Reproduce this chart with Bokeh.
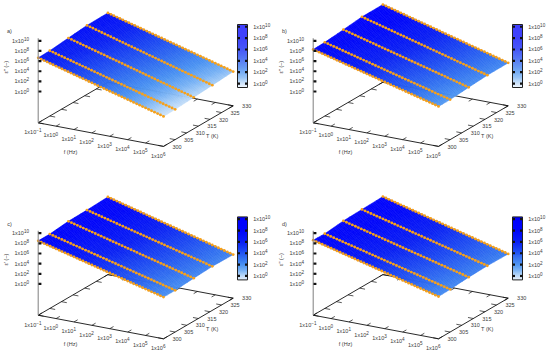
import numpy as np
from bokeh.plotting import figure
from bokeh.models import Range1d
from bokeh.core.properties import value
from bokeh.embed import file_html
from bokeh.resources import INLINE

log_f = [-1.00,-0.83,-0.67,-0.50,-0.33,-0.17,0.00,0.17,0.33,0.50,0.67,0.83,1.00,1.17,1.33,1.50,1.67,1.83,2.00,2.17,2.33,2.50,2.67,2.83,3.00,3.17,3.33,3.50,3.67,3.83,4.00,4.17,4.33,4.50,4.67,4.83,5.00,5.17,5.33,5.50,5.67,5.83,6.00]
temps = [300, 305, 313, 321, 330]

a_300 = [6.65,6.49,6.32,6.16,5.99,5.83,5.67,5.50,5.34,5.17,5.01,4.85,4.68,4.52,4.35,4.19,4.03,3.86,3.70,3.53,3.37,3.21,3.04,2.88,2.71,2.55,2.39,2.22,2.06,1.89,1.73,1.57,1.40,1.24,1.07,0.91,0.75,0.58,0.42,0.25,0.09,-0.08,-0.25]
a_305 = [6.71,6.55,6.38,6.22,6.05,5.89,5.72,5.56,5.39,5.23,5.07,4.90,4.74,4.57,4.41,4.24,4.08,3.91,3.75,3.58,3.42,3.26,3.09,2.93,2.76,2.60,2.43,2.27,2.10,1.94,1.77,1.61,1.45,1.28,1.12,0.95,0.79,0.62,0.46,0.29,0.13,-0.04,-0.20]
a_313 = [7.08,6.91,6.74,6.58,6.41,6.24,6.07,5.91,5.74,5.57,5.40,5.24,5.07,4.90,4.73,4.57,4.40,4.23,4.06,3.90,3.73,3.56,3.39,3.23,3.06,2.89,2.72,2.56,2.39,2.22,2.05,1.89,1.72,1.55,1.38,1.22,1.05,0.88,0.71,0.55,0.38,0.21,0.04]
a_321 = [7.44,7.27,7.10,6.93,6.76,6.59,6.42,6.25,6.08,5.91,5.74,5.57,5.40,5.23,5.06,4.89,4.72,4.55,4.38,4.21,4.04,3.87,3.70,3.53,3.36,3.19,3.02,2.85,2.68,2.51,2.34,2.17,2.00,1.83,1.66,1.49,1.32,1.15,0.98,0.81,0.64,0.47,0.30]
a_330 = [7.50,7.34,7.17,7.01,6.84,6.68,6.51,6.35,6.18,6.02,5.86,5.69,5.53,5.36,5.20,5.03,4.87,4.70,4.54,4.37,4.21,4.05,3.88,3.72,3.55,3.39,3.22,3.06,2.89,2.73,2.56,2.40,2.24,2.07,1.91,1.74,1.58,1.41,1.25,1.08,0.92,0.75,0.59]

b_300 = [8.29,8.13,7.98,7.82,7.66,7.51,7.35,7.20,7.04,6.88,6.73,6.57,6.41,6.26,6.10,5.94,5.79,5.63,5.47,5.32,5.16,5.01,4.85,4.69,4.54,4.38,4.22,4.07,3.91,3.75,3.60,3.44,3.29,3.13,2.97,2.82,2.66,2.50,2.35,2.19,2.03,1.88,1.72]
b_305 = [8.37,8.21,8.05,7.90,7.74,7.58,7.42,7.26,7.11,6.95,6.79,6.63,6.47,6.32,6.16,6.00,5.84,5.68,5.53,5.37,5.21,5.05,4.89,4.74,4.58,4.42,4.26,4.10,3.95,3.79,3.63,3.47,3.31,3.16,3.00,2.84,2.68,2.52,2.37,2.21,2.05,1.89,1.73]
b_313 = [8.72,8.56,8.40,8.24,8.08,7.92,7.76,7.60,7.44,7.28,7.13,6.97,6.81,6.65,6.49,6.33,6.17,6.01,5.85,5.69,5.53,5.37,5.21,5.05,4.89,4.73,4.57,4.41,4.25,4.09,3.93,3.78,3.62,3.46,3.30,3.14,2.98,2.82,2.66,2.50,2.34,2.18,2.02]
b_321 = [9.12,8.96,8.79,8.63,8.47,8.31,8.14,7.98,7.82,7.65,7.49,7.33,7.16,7.00,6.84,6.68,6.51,6.35,6.19,6.02,5.86,5.70,5.53,5.37,5.21,5.05,4.88,4.72,4.56,4.39,4.23,4.07,3.90,3.74,3.58,3.42,3.25,3.09,2.93,2.76,2.60,2.44,2.27]
b_330 = [9.15,8.99,8.82,8.66,8.50,8.34,8.17,8.01,7.85,7.68,7.52,7.36,7.19,7.03,6.87,6.71,6.54,6.38,6.22,6.05,5.89,5.73,5.56,5.40,5.24,5.08,4.91,4.75,4.59,4.42,4.26,4.10,3.93,3.77,3.61,3.45,3.28,3.12,2.96,2.79,2.63,2.47,2.30]

c_300 = [8.49,8.34,8.18,8.03,7.88,7.72,7.57,7.42,7.26,7.11,6.96,6.80,6.65,6.50,6.34,6.19,6.04,5.88,5.73,5.58,5.42,5.27,5.12,4.96,4.81,4.66,4.50,4.35,4.20,4.04,3.89,3.74,3.58,3.43,3.28,3.12,2.97,2.82,2.66,2.51,2.36,2.20,2.05]
c_305 = [8.50,8.35,8.19,8.04,7.89,7.73,7.58,7.43,7.27,7.12,6.97,6.81,6.66,6.51,6.35,6.20,6.05,5.89,5.74,5.59,5.43,5.28,5.13,4.97,4.82,4.67,4.51,4.36,4.21,4.05,3.90,3.75,3.59,3.44,3.29,3.13,2.98,2.83,2.67,2.52,2.37,2.21,2.06]
c_313 = [8.88,8.72,8.57,8.41,8.25,8.10,7.94,7.79,7.63,7.47,7.32,7.16,7.00,6.85,6.69,6.53,6.38,6.22,6.06,5.91,5.75,5.60,5.44,5.28,5.13,4.97,4.81,4.66,4.50,4.34,4.19,4.03,3.88,3.72,3.56,3.41,3.25,3.09,2.94,2.78,2.62,2.47,2.31]
c_321 = [8.96,8.81,8.65,8.50,8.35,8.19,8.04,7.89,7.73,7.58,7.42,7.27,7.12,6.96,6.81,6.66,6.50,6.35,6.20,6.04,5.89,5.73,5.58,5.43,5.27,5.12,4.97,4.81,4.66,4.51,4.35,4.20,4.04,3.89,3.74,3.58,3.43,3.28,3.12,2.97,2.82,2.66,2.51]
c_330 = [9.15,8.99,8.83,8.67,8.51,8.35,8.19,8.03,7.87,7.71,7.55,7.39,7.23,7.07,6.91,6.75,6.59,6.43,6.27,6.11,5.95,5.79,5.63,5.47,5.31,5.15,4.99,4.83,4.67,4.51,4.35,4.19,4.03,3.87,3.71,3.55,3.39,3.23,3.07,2.91,2.75,2.59,2.43]

d_300 = [8.62,8.47,8.31,8.16,8.01,7.85,7.70,7.55,7.39,7.24,7.08,6.93,6.78,6.62,6.47,6.32,6.16,6.01,5.86,5.70,5.55,5.39,5.24,5.09,4.93,4.78,4.63,4.47,4.32,4.17,4.01,3.86,3.70,3.55,3.40,3.24,3.09,2.94,2.78,2.63,2.48,2.32,2.17]
d_305 = [8.56,8.41,8.26,8.11,7.96,7.81,7.66,7.51,7.36,7.21,7.06,6.91,6.76,6.61,6.46,6.31,6.16,6.01,5.86,5.71,5.56,5.41,5.26,5.11,4.96,4.81,4.66,4.51,4.36,4.21,4.06,3.91,3.76,3.61,3.46,3.31,3.16,3.01,2.86,2.71,2.56,2.41,2.26]
d_313 = [8.96,8.81,8.65,8.50,8.35,8.19,8.04,7.89,7.73,7.58,7.42,7.27,7.12,6.96,6.81,6.66,6.50,6.35,6.20,6.04,5.89,5.73,5.58,5.43,5.27,5.12,4.97,4.81,4.66,4.51,4.35,4.20,4.04,3.89,3.74,3.58,3.43,3.28,3.12,2.97,2.82,2.66,2.51]
d_321 = [9.08,8.93,8.77,8.62,8.47,8.31,8.16,8.01,7.85,7.70,7.54,7.39,7.24,7.08,6.93,6.78,6.62,6.47,6.32,6.16,6.01,5.85,5.70,5.55,5.39,5.24,5.09,4.93,4.78,4.63,4.47,4.32,4.16,4.01,3.86,3.70,3.55,3.40,3.24,3.09,2.94,2.78,2.63]
d_330 = [9.21,9.05,8.89,8.74,8.58,8.42,8.26,8.10,7.95,7.79,7.63,7.47,7.31,7.16,7.00,6.84,6.68,6.52,6.37,6.21,6.05,5.89,5.73,5.58,5.42,5.26,5.10,4.94,4.79,4.63,4.47,4.31,4.15,4.00,3.84,3.68,3.52,3.36,3.21,3.05,2.89,2.73,2.57]

panels = [
    ("a)", "\u03b5'' (\u2013)", [a_300, a_305, a_313, a_321, a_330], 0, 0),
    ("b)", "\u03b5'' (\u2013)", [b_300, b_305, b_313, b_321, b_330], 275, 0),
    ("c)", "\u03b5' (\u2013)", [c_300, c_305, c_313, c_321, c_330], 0, 192.4),
    ("d)", "\u03b5'' (\u2013)", [d_300, d_305, d_313, d_321, d_330], 275, 192.4),
]
f_ticks = [-1, 0, 1, 2, 3, 4, 5, 6]
T_ticks = [300, 305, 310, 315, 320, 325, 330]
z_ticks = [0, 2, 4, 6, 8, 10]

pal_z = [-0.9, -0.4, 0.3, 1.0, 2.0, 3.0, 4.5, 6.0, 8.0, 10.4]
pal_r = [255, 215, 170, 120, 74, 52, 28, 10, 0, 0]
pal_g = [255, 232, 208, 178, 146, 116, 72, 32, 6, 0]
pal_b = [255, 250, 248, 245, 242, 240, 242, 244, 250, 255]

Z_BASE = -6.17
FS, ES = 5.5, 4.6
INK = "#3a3a3a"
FONT = value("Liberation Sans")
SUB_F, SUB_T = 2, 3


def colour(z):
    r = np.interp(z, pal_z, pal_r)
    g = np.interp(z, pal_z, pal_g)
    b = np.interp(z, pal_z, pal_b)
    return "#%02x%02x%02x" % (int(r), int(g), int(b))


def proj(lf, T, z, ox, oy):
    x = ox + 37.7 + (lf + 1) / 7 * 125.3 + (T - 300) / 30 * 69.7
    y = oy + 122.3 + (lf + 1) / 7 * 23.6 - (T - 300) / 30 * 40.6 - (z - Z_BASE) * 5.07
    return x, y


p = figure(width=550, height=356, x_range=Range1d(0, 550), y_range=Range1d(356, 0),
           output_backend="svg", toolbar_location=None, min_border=0,
           margin=(0, 0, 0, 0), background_fill_color="white", border_fill_color="white")
p.axis.visible = False
p.grid.visible = False
p.outline_line_color = None

base_x, base_y, base_t, exp_x, exp_y, exp_t = [], [], [], [], [], []


def power(x, y, exponent, anchor):
    """1x10^n as two real texts. anchor: 'left', 'center' or 'right' of the whole label."""
    e = str(exponent)
    we = sum(0.584 if c == "-" else 0.556 for c in e) * ES
    wb = 2.168 * FS
    x0 = x if anchor == "left" else x - (wb + we) / 2 if anchor == "center" else x - wb - we
    base_x.append(x0); base_y.append(y); base_t.append("1x10")
    exp_x.append(x0 + wb); exp_y.append(y - 1.9); exp_t.append(e.replace("-", "\u2212"))


for tag, zname, series, ox, oy in panels:
    # floor of the box
    c = [proj(-1, 300, Z_BASE, ox, oy), proj(6, 300, Z_BASE, ox, oy),
         proj(6, 330, Z_BASE, ox, oy), proj(-1, 330, Z_BASE, ox, oy)]
    p.line([q[0] for q in c] + [c[0][0]], [q[1] for q in c] + [c[0][1]], line_color="#111111", line_width=0.9)
    xs0, ys0, xs1, ys1 = [], [], [], []
    for lf in f_ticks:
        for T, d in ((300, 1.6), (330, -1.6)):
            a = proj(lf, T, Z_BASE, ox, oy); b = proj(lf, T + d, Z_BASE, ox, oy)
            xs0.append(a[0]); ys0.append(a[1]); xs1.append(b[0]); ys1.append(b[1])
        a = proj(lf, 300, Z_BASE, ox, oy)
        power(a[0] - 5.3, a[1] + 9.3, lf, "center")
    for T in T_ticks:
        for lf, d in ((-1, 0.3), (6, -0.3)):
            a = proj(lf, T, Z_BASE, ox, oy); b = proj(lf + d, T, Z_BASE, ox, oy)
            xs0.append(a[0]); ys0.append(a[1]); xs1.append(b[0]); ys1.append(b[1])
    p.segment(xs0, ys0, xs1, ys1, line_color="#111111", line_width=0.7)

    # surface between neighbouring temperature series, shaded finely as pm3d does
    sx, sy, sc = [], [], []
    for j in range(len(temps) - 1):
        for i in range(len(log_f) - 1):
            for m in range(SUB_F):
                for n in range(SUB_T):
                    u0, u1 = m / SUB_F, (m + 1) / SUB_F
                    v0, v1 = n / SUB_T, (n + 1) / SUB_T
                    pts, zs = [], []
                    for u, v in ((u0, v0), (u1, v0), (u1, v1), (u0, v1)):
                        lf = log_f[i] + u * (log_f[i + 1] - log_f[i])
                        T = temps[j] + v * (temps[j + 1] - temps[j])
                        z0 = series[j][i] + u * (series[j][i + 1] - series[j][i])
                        z1 = series[j + 1][i] + u * (series[j + 1][i + 1] - series[j + 1][i])
                        z = z0 + v * (z1 - z0)
                        pts.append(proj(lf, T, z, ox, oy)); zs.append(z)
                    sx.append([q[0] for q in pts]); sy.append([q[1] for q in pts])
                    sc.append(colour(np.mean(zs)))
    p.patches(sx, sy, fill_color=sc, line_color=sc, line_width=0.6)

    # measured series
    for T, vals in zip(temps, series):
        pts = [proj(l, T, z, ox, oy) for l, z in zip(log_f, vals)]
        px = [q[0] for q in pts]; py = [q[1] for q in pts]
        p.line(px, py, line_color="#f5a623", line_width=0.6)
        p.scatter(px, py, size=2.8, marker="circle", fill_color="#f7a11a", line_color=None)

    # vertical axis
    a = proj(-1, 300, Z_BASE, ox, oy); b = proj(-1, 300, 10.5, ox, oy)
    p.line([a[0], b[0]], [a[1], b[1]], line_color="#8a8a8a", line_width=1.1)
    tx0, ty0, tx1 = [], [], []
    for z in z_ticks:
        q = proj(-1, 300, z, ox, oy)
        tx0.append(q[0] + 0.3); ty0.append(q[1]); tx1.append(q[0] + 3.2)
        power(28.5 + ox, q[1], z, "right")
    p.segment(tx0, ty0, tx1, ty0, line_color="#111111", line_width=2.2)

    # colour bar
    top, per_dec, z_top = oy + 24, 5.68, 10.4
    rows = np.arange(0, 63)
    zz = z_top - (rows + 0.5) / per_dec
    p.quad(left=ox + 237, right=ox + 247, top=top + rows, bottom=top + rows + 1.05,
           fill_color=[colour(z) for z in zz], line_color=None)
    p.quad(left=[ox + 237], right=[ox + 247], top=[top], bottom=[top + 63],
           fill_color=None, line_color="#222222", line_width=1.0)
    bx0, by0, bx1 = [], [], []
    for z in z_ticks:
        y = top + (z_top - z) * per_dec
        bx0 += [ox + 237, ox + 247]; by0 += [y, y]; bx1 += [ox + 239.5, ox + 244.5]
        power(ox + 252.7, y, z, "left")
    p.segment(bx0, by0, bx1, by0, line_color="#111111", line_width=2.2)

    # texts
    tx = [ox + 9, ox + 70, ox + 211.7]
    ty = [oy + 30.7, oy + 151, oy + 135.7]
    p.text(tx, ty, text=[tag, "f (Hz)", "T (K)"], text_font=FONT, text_font_size="5.5px",
           text_color=INK, text_align="center", text_baseline="middle")
    p.text([ox + 5], [oy + 66.7], text=[zname], text_font=FONT, text_font_size="5.5px", angle=np.pi / 2,
           text_color=INK, text_align="center", text_baseline="middle")
    tl_x, tl_y, tl_t = [], [], []
    for T in T_ticks:
        q = proj(6, T, Z_BASE, ox, oy)
        tl_x.append(q[0] + 13.5); tl_y.append(q[1] + 0.2); tl_t.append(str(T))
    p.text(tl_x, tl_y, text=tl_t, text_font=FONT, text_font_size="5.5px",
           text_color=INK, text_align="center", text_baseline="middle")

p.text(base_x, base_y, text=base_t, text_font=FONT, text_font_size=f"{FS}px", text_color=INK,
       text_align="left", text_baseline="middle")
p.text(exp_x, exp_y, text=exp_t, text_font=FONT, text_font_size=f"{ES}px", text_color=INK,
       text_align="left", text_baseline="middle")

open("out.html", "w").write(file_html(p, INLINE))
